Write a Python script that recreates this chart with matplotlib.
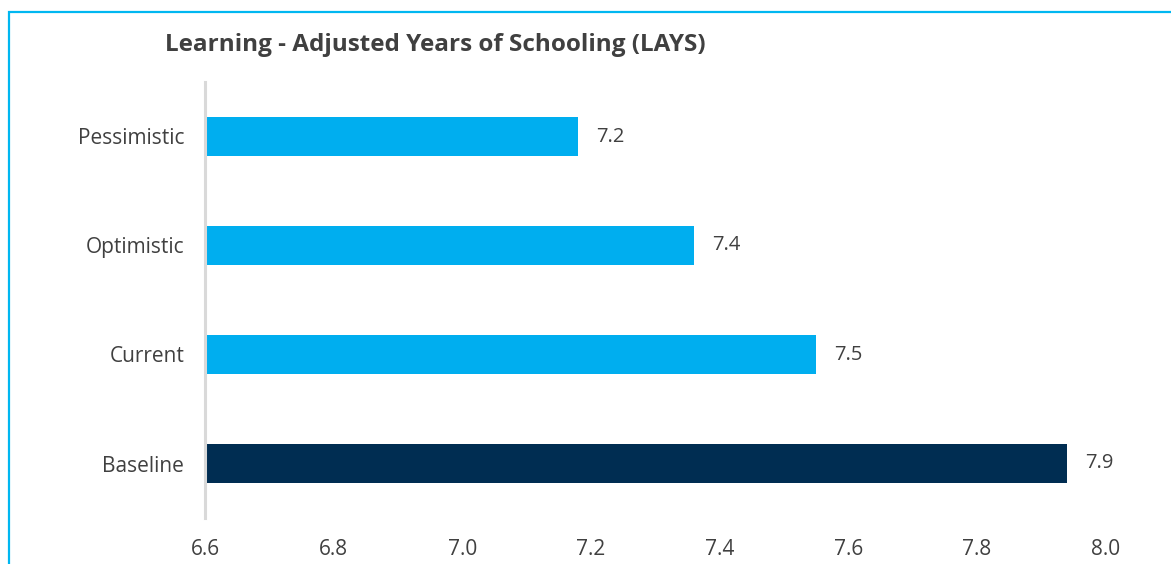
import matplotlib.pyplot as plt
from matplotlib.patches import Rectangle

categories = ['Baseline', 'Current', 'Optimistic', 'Pessimistic']
values = [7.94, 7.55, 7.36, 7.18]
labels = ['7.9', '7.5', '7.4', '7.2']
colors = ['#002D52', '#00AEEF', '#00AEEF', '#00AEEF']
x_ticks = [6.6, 6.8, 7.0, 7.2, 7.4, 7.6, 7.8, 8.0]

plt.rcParams['font.family'] = ['Open Sans', 'DejaVu Sans']
text_color = '#404040'

fig = plt.figure(figsize=(11.71, 5.64), dpi=100)
ax = fig.add_axes([205 / 1171, 1 - 518 / 564, 900.5 / 1171, 436 / 564])

y = range(len(categories))
ax.barh(y, [v - 6.6 for v in values], left=6.6, height=0.35, color=colors)

# value labels to the right of each bar
for i in y:
    ax.text(values[i] + 0.028, i, labels[i], va='center', ha='left',
            fontsize=14.5, color=text_color)

ax.set_xlim(6.6, 8.0)
ax.set_ylim(-0.5, 3.5)
ax.set_yticks(list(y))
ax.set_yticklabels(categories)
ax.set_xticks(x_ticks)
ax.set_xticklabels([f'{t:.1f}' for t in x_ticks])
ax.tick_params(axis='both', length=0, labelsize=15, labelcolor=text_color)
ax.tick_params(axis='y', pad=15)
ax.tick_params(axis='x', pad=15)

for side in ['top', 'right', 'bottom']:
    ax.spines[side].set_visible(False)
ax.spines['left'].set_color('#D9D9D9')
ax.spines['left'].set_linewidth(2.2)

fig.text(165 / 1171, 1 - 45 / 564, 'Learning - Adjusted Years of Schooling (LAYS)',
         fontsize=17.5, fontweight='bold', color=text_color, va='center', ha='left')

# light blue frame, only left and top are inside the picture
fig.patches.append(Rectangle((9 / 1171, -0.1), 1.2, 1 - 12 / 564 + 0.1,
                             transform=fig.transFigure, fill=False,
                             edgecolor='#00B7F1', linewidth=1.6))

fig.savefig('out.png', dpi=100)
